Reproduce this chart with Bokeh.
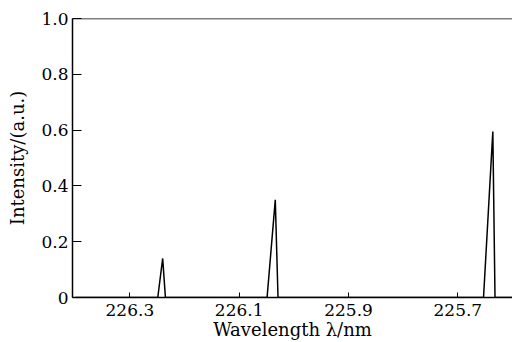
from bokeh.plotting import figure
from bokeh.models import Range1d, FixedTicker, Span
from bokeh.embed import file_html
from bokeh.resources import INLINE

# Spectrum: baseline with three emission peaks (x axis reversed)
wavelength = [226.40, 226.26, 226.249, 226.240, 226.235, 226.22,
              226.06, 226.049, 226.034, 226.029, 226.01,
              225.67, 225.653, 225.636, 225.632, 225.60]
intensity = [0, 0, 0, 0.14, 0, 0,
             0, 0, 0.35, 0, 0,
             0, 0, 0.595, 0, 0]

x_ticks = [226.3, 226.1, 225.9, 225.7]
y_ticks = [0, 0.2, 0.4, 0.6, 0.8, 1.0]
y_tick_labels = ["0", "0.2", "0.4", "0.6", "0.8", "1.0"]

FONT = "DejaVu Serif"

p = figure(width=512, height=342, output_backend="svg", toolbar_location=None,
           x_range=Range1d(226.405, 225.600), y_range=Range1d(0, 1.0),
           min_border_left=72, min_border_right=0, min_border_top=18,
           min_border_bottom=44)
p.outline_line_color = None
p.grid.visible = False
p.background_fill_color = "white"
p.border_fill_color = "white"

p.line(wavelength, intensity, line_color="black", line_width=1.5)

top = Span(location=1.0, dimension="width", line_color="black", line_width=1.5)
p.add_layout(top)

xa = p.xaxis[0]
xa.ticker = FixedTicker(ticks=x_ticks)
xa.major_label_overrides = {v: str(v) for v in x_ticks}
xa.axis_label = "Wavelength λ/nm"
xa.axis_line_width = 1.5
xa.axis_line_color = "black"
xa.major_tick_line_color = "black"
xa.major_tick_in = 5
xa.major_tick_out = 0
xa.minor_tick_line_color = None
xa.major_label_standoff = 6
xa.axis_label_standoff = 0
xa.major_label_text_font = FONT
xa.major_label_text_font_size = "17px"
xa.major_label_text_color = "black"
xa.axis_label_text_font = FONT
xa.axis_label_text_font_size = "18px"
xa.axis_label_text_font_style = "normal"
xa.axis_label_text_color = "black"

ya = p.yaxis[0]
ya.ticker = FixedTicker(ticks=y_ticks)
ya.major_label_overrides = dict(zip(y_ticks, y_tick_labels))
ya.axis_label = "Intensity/(a.u.)"
ya.axis_line_width = 1.5
ya.axis_line_color = "black"
ya.major_tick_line_color = "black"
ya.major_tick_in = 9
ya.major_tick_out = 0
ya.minor_tick_line_color = None
ya.major_label_standoff = 4
ya.axis_label_standoff = 10
ya.major_label_text_font = FONT
ya.major_label_text_font_size = "17px"
ya.major_label_text_color = "black"
ya.axis_label_text_font = FONT
ya.axis_label_text_font_size = "18px"
ya.axis_label_text_font_style = "normal"
ya.axis_label_text_color = "black"

open("out.html", "w").write(file_html(p, INLINE))
